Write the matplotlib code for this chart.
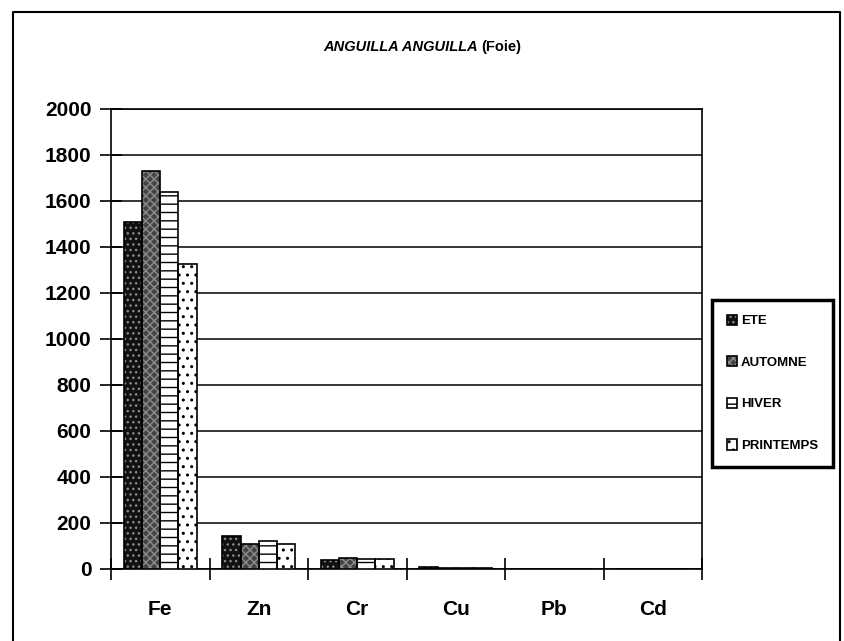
import matplotlib
matplotlib.use('Agg')
import matplotlib.pyplot as plt
from matplotlib.patches import Patch
from matplotlib.lines import Line2D
import numpy as np

plt.rcParams['font.family'] = ['Liberation Sans', 'DejaVu Sans']
plt.rcParams['hatch.linewidth'] = 1.0

# data
elements = ['Fe', 'Zn', 'Cr', 'Cu', 'Pb', 'Cd']
seasons = ['ETE', 'AUTOMNE', 'HIVER', 'PRINTEMPS']
ete = [1509, 143, 38, 8, 2, 0.5]
automne = [1730, 109, 46, 5, 1, 0.5]
hiver = [1639, 122, 42, 4, 1, 0.5]
printemps = [1326, 109, 42, 3, 1, 0.5]
series = [ete, automne, hiver, printemps]

# fill colour, hatch colour, hatch pattern per season
styles = [('#111111', '#8a8a8a', '...'),
          ('#444444', '#8c8c8c', 'xxxx'),
          ('white', 'black', '--'),
          ('white', 'black', '..')]

fig = plt.figure(figsize=(8.44, 6.41), dpi=100)
ax = fig.add_axes([111/844, 1 - 569/641, 591/844, 460/641])

x = np.arange(len(elements))
w = 0.185
for i, (vals, (fc, hc, h)) in enumerate(zip(series, styles)):
    pos = x + (i - 1.5) * w
    ax.bar(pos, vals, w, color=fc, edgecolor=hc, hatch=h, linewidth=0, zorder=3)
    ax.bar(pos, vals, w, fill=False, edgecolor='black', linewidth=1.2, zorder=4)

ax.set_xlim(-0.5, len(elements) - 0.5)
ax.set_ylim(0, 2000)
ax.set_yticks(np.arange(0, 2001, 200))
ax.yaxis.grid(True, color='black', linewidth=1.1)
ax.set_axisbelow(True)

ax.set_xticks(np.arange(-0.5, len(elements), 1.0))
ax.set_xticklabels([])
ax.set_xticks(x, minor=True)
ax.set_xticklabels(elements, minor=True, fontsize=15, fontweight='bold')
ax.tick_params(axis='x', which='major', direction='inout', length=16, width=1.2)
ax.tick_params(axis='x', which='minor', length=0, pad=22)
ax.tick_params(axis='y', direction='inout', length=16, width=1.2, pad=6)
for lab in ax.get_yticklabels():
    lab.set_fontsize(15)
    lab.set_fontweight('bold')
for s in ax.spines.values():
    s.set_linewidth(1.2)

# title: italic species name + normal "(Foie)"
t1 = fig.text(0, 1 - 47/641, 'ANGUILLA ANGUILLA ', fontsize=10.5, fontweight='bold',
              fontstyle='italic', va='center', ha='left')
t2 = fig.text(0, 1 - 47/641, '(Foie)', fontsize=10.5, fontweight='bold',
              va='center', ha='left')
fig.canvas.draw()
r = fig.canvas.get_renderer()
w1 = t1.get_window_extent(r).width
w2 = t2.get_window_extent(r).width
x0 = 422 - (w1 + w2) / 2
t1.set_x(x0 / 844)
t2.set_x((x0 + w1) / 844)

# legend
handles = []
for fc, hc, h in styles:
    handles.append((Patch(facecolor=fc, edgecolor=hc, hatch=h, linewidth=0),
                    Patch(fill=False, edgecolor='black', linewidth=1.2)))
leg = fig.legend(handles, seasons, loc='upper left',
                 bbox_to_anchor=(712/844, 1 - 300/641),
                 prop={'weight': 'bold', 'size': 9.5},
                 handlelength=0.8, handleheight=0.8, handletextpad=0.3,
                 labelspacing=2.2, borderpad=1.1, borderaxespad=0,
                 fancybox=False, edgecolor='black', framealpha=1)
leg.get_frame().set_linewidth(2.5)

# outer chart frame
fx0, fx1, fy1 = 13/844, 840/844, 1 - 12/641
fig.add_artist(Line2D([fx0, fx0, fx1, fx1], [-0.02, fy1, fy1, -0.02],
                      transform=fig.transFigure, color='black', linewidth=1.5))

fig.savefig('out.png', dpi=100)
